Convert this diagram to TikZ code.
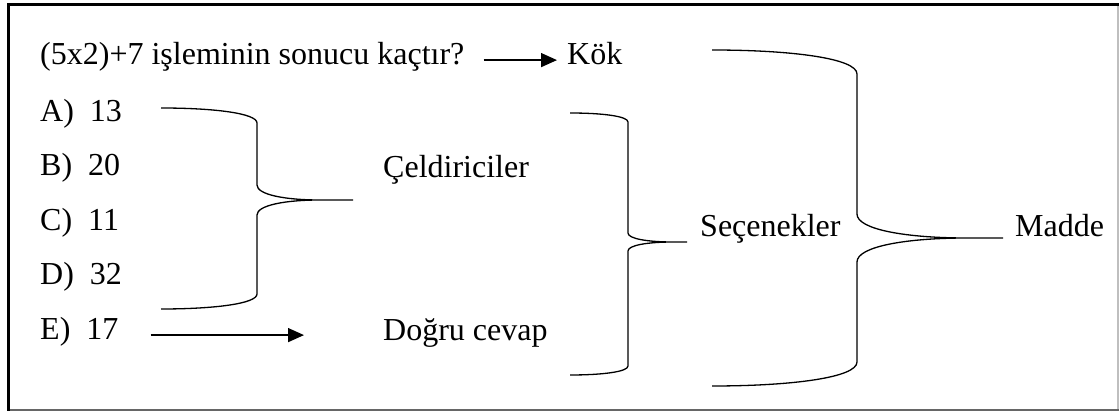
\documentclass[tikz,border=0pt]{standalone}
\usepackage{fontspec}
\setmainfont{Liberation Serif}
\usetikzlibrary{arrows.meta}

% Right curly brace: start x, top y, bottom y, stem x, tip y, tip join x, tip end x, corner size
\newcommand\drawrbrace[8]{%
  \draw[bracestyle]
    (#1,#2) .. controls ({#1+0.55*(#4-#1)},#2) and (#4,{#2+0.35*#8}) .. (#4,{#2+#8})
    -- (#4,{#5-#8}) .. controls (#4,{#5-0.35*#8}) and ({#4+0.45*(#6-#4)},#5) .. (#6,#5) -- (#7,#5)
    (#6,#5) .. controls ({#4+0.45*(#6-#4)},#5) and (#4,{#5+0.35*#8}) .. (#4,{#5+#8})
    -- (#4,{#3-#8}) .. controls (#4,{#3-0.35*#8}) and ({#1+0.55*(#4-#1)},#3) .. (#1,#3);}

\begin{document}
\begin{tikzpicture}[x=1pt,y=-1pt,
  txt/.style={anchor=base west,inner sep=0pt,text height=0.7em,text depth=0.2em,
    font=\fontsize{32}{38}\selectfont},
  bracestyle/.style={line width=1.3pt,line join=round},
  arr/.style={line width=1.5pt,-{Triangle[length=16pt,width=14pt]}}]
\useasboundingbox (0,0) rectangle (1119,411);

% page frame
\draw[line width=3pt] (7,4.5) -- (1119,4.5);
\draw[line width=3pt] (8.5,3) -- (8.5,411);
\draw[line width=1.5pt,black!25] (1118,6) -- (1118,411);
\draw[line width=1.5pt,black!60] (10,410) -- (1119,410);

% question and options
\node[txt] (q) at (40,65) {(5x2)+7 işleminin sonucu kaçtır?};
\node[txt] (kok) at (567,65) {Kök};
\node[txt] (a) at (40,122) {A)\ \ 13};
\node[txt] (b) at (40,176) {B)\ \ 20};
\node[txt] (c) at (40,231) {C)\ \ 11};
\node[txt] (d) at (40,285) {D)\ \ 32};
\node[txt] (e) at (40,340) {E)\ \ 17};

% labels
\node[txt] (celd) at (383,178) {Çeldiriciler};
\node[txt] (dogru) at (383,341) {Doğru cevap};
\node[txt] (secen) at (700,237) {Seçenekler};
\node[txt] (madde) at (1015,237) {Madde};

% arrows
\draw[arr] ([xshift=19pt,yshift=2.4pt]q.east) -- ([xshift=-10pt,yshift=2.4pt]kok.west);
\draw[arr] ([xshift=32pt,yshift=2.4pt]e.east) -- ([xshift=-79pt,yshift=2.4pt]dogru.west |- e.east);

% braces
\drawrbrace{161}{108}{309}{257}{200}{320}{353}{15}
\drawrbrace{570}{113}{375}{628}{242}{673}{687}{9}
\drawrbrace{712}{50}{386}{857}{238}{967}{1003}{24}
\end{tikzpicture}
\end{document}
